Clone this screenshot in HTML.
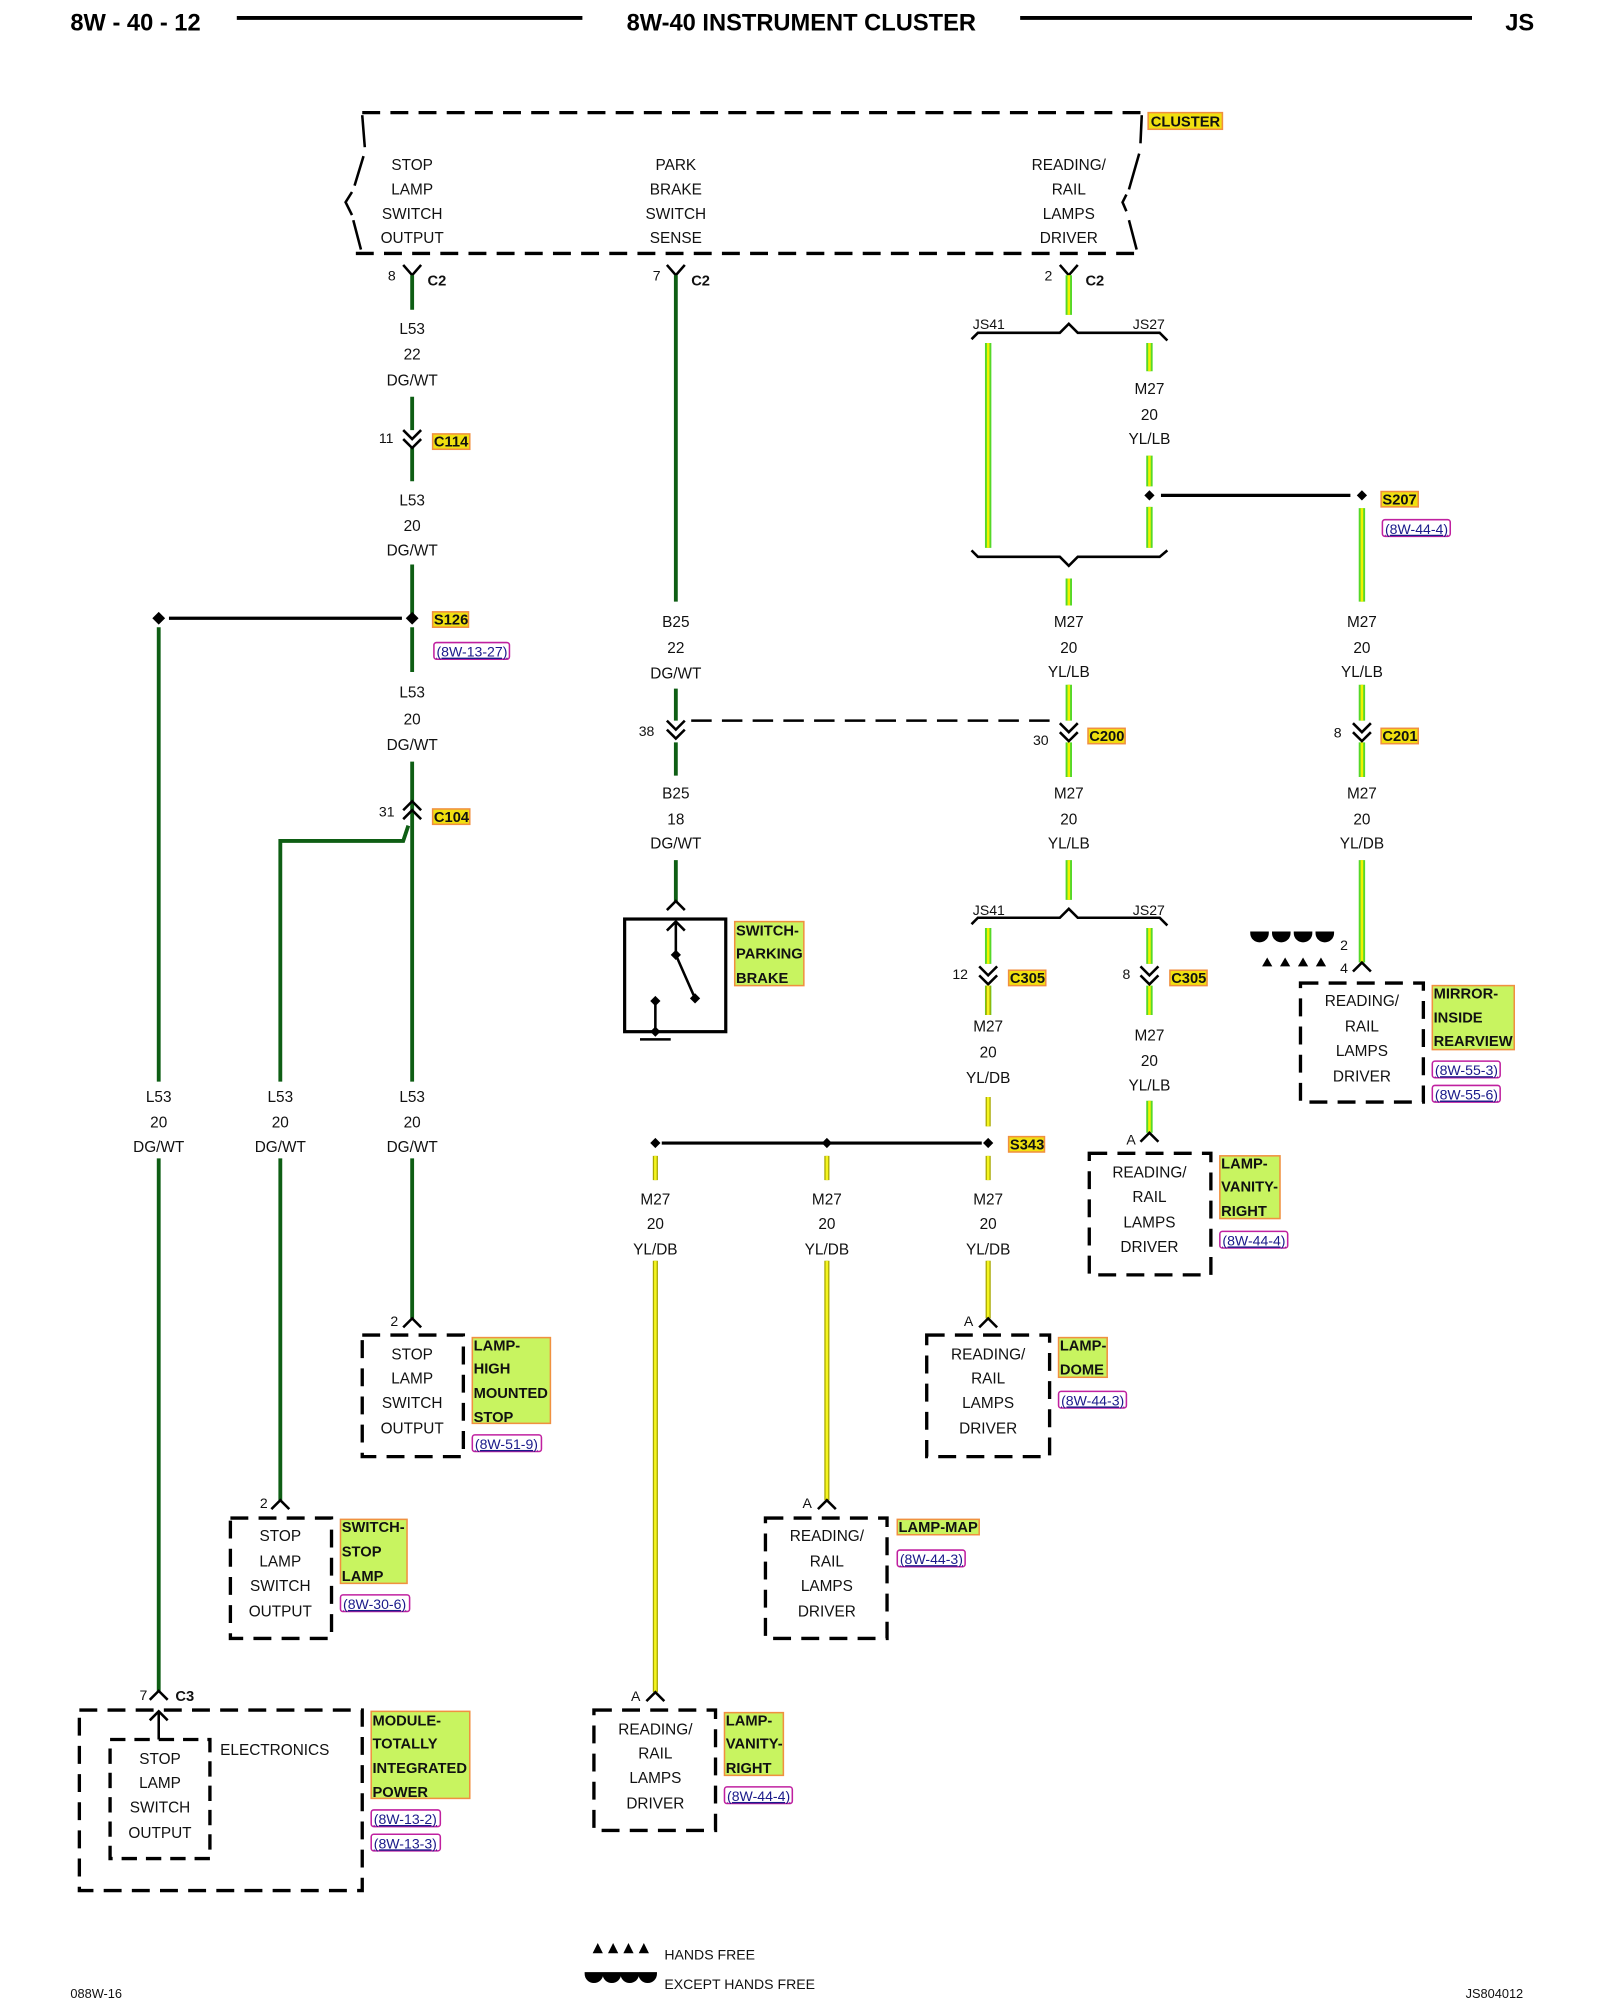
<!DOCTYPE html>
<html><head><meta charset="utf-8"><style>
html,body{margin:0;padding:0;background:#fff}
svg{display:block}
text{font-family:"Liberation Sans",Arial,sans-serif}
.t{font-size:12px;text-anchor:middle;fill:#111}
.n{font-size:11px;fill:#111}
.b{font-size:11.5px;font-weight:bold;fill:#111}
.h{font-size:11.5px;font-weight:bold;fill:#111}
.r{font-size:11px;fill:#1a1a8a;text-decoration:underline}
.dg{stroke:#0e5e14;stroke-width:3;fill:none}
.yb1{stroke:#55d82a;stroke-width:5;fill:none}
.yb2{stroke:#f2f200;stroke-width:2;fill:none}
.yd1{stroke:#a8a800;stroke-width:4;fill:none}
.yd2{stroke:#f4f420;stroke-width:2;fill:none}
.k{stroke:#000;stroke-width:2;fill:none}
.dsh{stroke:#000;stroke-width:2.6;fill:none;stroke-dasharray:14,8}
.hl{fill:#f0e010;stroke:#f09040;stroke-width:1.2}
.gb{fill:#c8f460;stroke:#f09040;stroke-width:1.2}
.rf{fill:none;stroke:#c020a0;stroke-width:1.2}
</style></head><body>
<svg width="1600" height="2000" viewBox="0 0 1250 1562.5" preserveAspectRatio="none" xmlns="http://www.w3.org/2000/svg">
<!-- header -->
<text x="55" y="24" style="font-size:18.5px;font-weight:bold">8W - 40 - 12</text>
<line x1="185" y1="14" x2="455" y2="14" stroke="#000" stroke-width="3"/>
<text x="626" y="24" style="font-size:18.5px;font-weight:bold;text-anchor:middle">8W-40 INSTRUMENT CLUSTER</text>
<line x1="797" y1="14" x2="1150" y2="14" stroke="#000" stroke-width="3"/>
<text x="1176" y="24" style="font-size:18.5px;font-weight:bold">JS</text>

<!-- cluster box -->
<path class="dsh" d="M283 88 H892"/>
<path class="dsh" d="M278 198 H890"/>
<path class="k" stroke-width="2.6" d="M283 90 L285 115 M284 122 L277 145 M275 150 L270 158 L275 168 M276 172 L282 195"/>
<path class="k" stroke-width="2.6" d="M892 90 L891 112 M890 120 L882 148 M880 152 L877 158 L880 165 M882 172 L888 195"/>
<rect class="hl" x="897" y="88" width="58" height="13"/>
<text class="h" x="899" y="99">CLUSTER</text>
<g class="t">
<text x="322" y="133">STOP</text><text x="322" y="152">LAMP</text><text x="322" y="171">SWITCH</text><text x="322" y="190">OUTPUT</text>
<text x="528" y="133">PARK</text><text x="528" y="152">BRAKE</text><text x="528" y="171">SWITCH</text><text x="528" y="190">SENSE</text>
<text x="835" y="133">READING/</text><text x="835" y="152">RAIL</text><text x="835" y="171">LAMPS</text><text x="835" y="190">DRIVER</text>
</g>
<!-- C2 connectors -->
<path class="k" d="M315 207 L322 215 L329 207 M521 207 L528 215 L535 207 M828 207 L835 215 L842 207"/>
<text class="n" x="303" y="219">8</text><text class="b" x="334" y="223">C2</text>
<text class="n" x="510" y="219">7</text><text class="b" x="540" y="223">C2</text>
<text class="n" x="816" y="219">2</text><text class="b" x="848" y="223">C2</text>

<!-- L53 main wire x=322 -->
<path class="dg" d="M322 215 V242 M322 310 V336 M322 350 V376 M322 441 V483 M322 490 V525 M322 595 V640 M322 640 V845 M322 905 V1030"/>
<path class="k" d="M315 336 L322 343 L329 336 M315 343 L322 350 L329 343"/>
<text class="n" x="296" y="346">11</text>
<rect class="hl" x="338" y="339" width="29" height="12"/><text class="h" x="339" y="349">C114</text>
<g class="t">
<text x="322" y="261">L53</text><text x="322" y="281">22</text><text x="322" y="301">DG/WT</text>
<text x="322" y="395">L53</text><text x="322" y="415">20</text><text x="322" y="434">DG/WT</text>
<text x="322" y="545">L53</text><text x="322" y="566">20</text><text x="322" y="586">DG/WT</text>
</g>
<!-- S126 -->
<path d="M322 478 L327 483 L322 488 L317 483Z M124 478 L129 483 L124 488 L119 483Z" fill="#000"/>
<line x1="132" y1="483" x2="314" y2="483" stroke="#000" stroke-width="2.5"/>
<rect class="hl" x="338" y="478" width="28" height="12"/><text class="h" x="339" y="488">S126</text>
<rect class="rf" x="339" y="502" width="59" height="13" rx="2"/><text class="r" x="341" y="513">(8W-13-27)</text>
<!-- C104 -->
<path class="k" d="M315 633 L322 626 L329 633 M315 640 L322 633 L329 640"/>
<text class="n" x="296" y="638">31</text>
<rect class="hl" x="338" y="632" width="29" height="12"/><text class="h" x="339" y="642">C104</text>
<path class="dg" d="M319 645 L315 657 H219 V845 M219 905 V1172"/>
<path class="dg" d="M124 490 V845 M124 905 V1322"/>
<g class="t">
<text x="124" y="861">L53</text><text x="124" y="881">20</text><text x="124" y="900">DG/WT</text>
<text x="219" y="861">L53</text><text x="219" y="881">20</text><text x="219" y="900">DG/WT</text>
<text x="322" y="861">L53</text><text x="322" y="881">20</text><text x="322" y="900">DG/WT</text>
</g>
<!-- HMSL box -->
<path class="k" d="M315 1037 L322 1030 L329 1037"/><text class="n" x="305" y="1036">2</text>
<rect class="dsh" x="283" y="1043" width="79" height="95"/>
<g class="t"><text x="322" y="1062">STOP</text><text x="322" y="1081">LAMP</text><text x="322" y="1100">SWITCH</text><text x="322" y="1120">OUTPUT</text></g>
<rect class="gb" x="369" y="1045" width="61" height="67"/>
<text class="h" x="370" y="1055">LAMP-</text><text class="h" x="370" y="1073">HIGH</text><text class="h" x="370" y="1092">MOUNTED</text><text class="h" x="370" y="1111">STOP</text>
<rect class="rf" x="369" y="1121" width="54" height="13" rx="2"/><text class="r" x="371" y="1132">(8W-51-9)</text>
<!-- stop lamp switch box -->
<path class="k" d="M212 1179 L219 1172 L226 1179"/><text class="n" x="203" y="1178">2</text>
<rect class="dsh" x="180" y="1186" width="79" height="94"/>
<g class="t"><text x="219" y="1204">STOP</text><text x="219" y="1224">LAMP</text><text x="219" y="1243">SWITCH</text><text x="219" y="1263">OUTPUT</text></g>
<rect class="gb" x="266" y="1187" width="52" height="50"/>
<text class="h" x="267" y="1197">SWITCH-</text><text class="h" x="267" y="1216">STOP</text><text class="h" x="267" y="1235">LAMP</text>
<rect class="rf" x="266" y="1246" width="54" height="13" rx="2"/><text class="r" x="268" y="1257">(8W-30-6)</text>
<!-- TIPM -->
<path class="k" d="M117 1328 L124 1321 L131 1328"/><text class="n" x="109" y="1328">7</text><text class="b" x="137" y="1329">C3</text>
<rect class="dsh" x="62" y="1336" width="221" height="141"/>
<path class="k" d="M124 1359 V1338 M117 1344 L124 1337 L131 1344"/>
<rect class="dsh" x="86" y="1359" width="78" height="93" stroke-width="1.8" style="stroke-dasharray:12,7"/>
<text class="n" x="172" y="1371" style="font-size:12px">ELECTRONICS</text>
<g class="t"><text x="125" y="1378">STOP</text><text x="125" y="1397">LAMP</text><text x="125" y="1416">SWITCH</text><text x="125" y="1436">OUTPUT</text></g>
<rect class="gb" x="290" y="1337" width="77" height="68"/>
<text class="h" x="291" y="1348">MODULE-</text><text class="h" x="291" y="1366">TOTALLY</text><text class="h" x="291" y="1385">INTEGRATED</text><text class="h" x="291" y="1404">POWER</text>
<rect class="rf" x="290" y="1414" width="54" height="13" rx="2"/><text class="r" x="292" y="1425">(8W-13-2)</text>
<rect class="rf" x="290" y="1433" width="54" height="13" rx="2"/><text class="r" x="292" y="1444">(8W-13-3)</text>

<!-- B25 wire x=528 -->
<path class="dg" d="M528 215 V470 M528 538 V563 M528 580 V606 M528 672 V705"/>
<path class="k" d="M521 563 L528 570 L535 563 M521 570 L528 577 L535 570"/>
<text class="n" x="499" y="575">38</text>
<path d="M540 563 H820" stroke="#000" stroke-width="2" stroke-dasharray="16,8"/>
<g class="t">
<text x="528" y="490">B25</text><text x="528" y="510">22</text><text x="528" y="530">DG/WT</text>
<text x="528" y="624">B25</text><text x="528" y="644">18</text><text x="528" y="663">DG/WT</text>
</g>
<path class="k" d="M521 711 L528 704 L535 711"/>
<rect x="488" y="718" width="79" height="88" fill="none" stroke="#000" stroke-width="2.5"/>
<path class="k" d="M528 720 V746 M521 727 L528 720 L535 727 M528 746 L543 780 M512 782 V806 M500 812 H524" />
<path d="M528 742 L532 746 L528 750 L524 746Z M543 776 L547 780 L543 784 L539 780Z M512 778 L516 782 L512 786 L508 782Z M512 802 L516 806 L512 810 L508 806Z" fill="#000"/>
<rect class="gb" x="574" y="720" width="54" height="50"/>
<text class="h" x="575" y="731">SWITCH-</text><text class="h" x="575" y="749">PARKING</text><text class="h" x="575" y="768">BRAKE</text>

<!-- M27 x=835 trunk -->
<g>
<path class="yb1" d="M835 215 V246 M772 268 V428 M898 268 V290 M898 356 V380 M898 396 V428 M835 452 V473 M835 535 V563 M835 580 V607 M835 672 V703 M1064 397 V470 M1064 535 V563 M1064 580 V607"/>
<path class="yb2" d="M835 215 V246 M772 268 V428 M898 268 V290 M898 356 V380 M898 396 V428 M835 452 V473 M835 535 V563 M835 580 V607 M835 672 V703 M1064 397 V470 M1064 535 V563 M1064 580 V607"/>
<path class="yb1" d="M772 725 V753 M772 770 V793 M898 725 V753 M898 770 V793 M898 860 V885 M1064 672 V752"/>
<path class="yb2" d="M772 725 V753 M772 770 V793 M898 725 V753 M898 770 V793 M898 860 V885 M1064 672 V752"/>
</g>
<path class="k" d="M759 265 L764 260 H828 L835 253 L842 260 H906 L912 266"/>
<text class="n" x="760" y="257">JS41</text><text class="n" x="885" y="257">JS27</text>
<path class="k" d="M759 430 L764 435 H828 L835 442 L842 435 H906 L912 430"/>
<g class="t">
<text x="898" y="308">M27</text><text x="898" y="328">20</text><text x="898" y="347">YL/LB</text>
<text x="835" y="490">M27</text><text x="835" y="510">20</text><text x="835" y="529">YL/LB</text>
<text x="1064" y="490">M27</text><text x="1064" y="510">20</text><text x="1064" y="529">YL/LB</text>
<text x="835" y="624">M27</text><text x="835" y="644">20</text><text x="835" y="663">YL/LB</text>
<text x="1064" y="624">M27</text><text x="1064" y="644">20</text><text x="1064" y="663">YL/DB</text>
</g>
<path d="M898 383 L902 387 L898 391 L894 387Z M1064 383 L1068 387 L1064 391 L1060 387Z" fill="#000"/>
<line x1="907" y1="387" x2="1055" y2="387" stroke="#000" stroke-width="2.5"/>
<rect class="hl" x="1079" y="384" width="29" height="12"/><text class="h" x="1080" y="394">S207</text>
<rect class="rf" x="1080" y="406" width="53" height="13" rx="2"/><text class="r" x="1082" y="417">(8W-44-4)</text>
<!-- C200 / C201 -->
<path class="k" d="M828 565 L835 572 L842 565 M828 572 L835 579 L842 572 M1057 565 L1064 572 L1071 565 M1057 572 L1064 579 L1071 572"/>
<text class="n" x="807" y="582">30</text>
<rect class="hl" x="850" y="569" width="29" height="12"/><text class="h" x="851" y="579">C200</text>
<text class="n" x="1042" y="576">8</text>
<rect class="hl" x="1079" y="569" width="29" height="12"/><text class="h" x="1080" y="579">C201</text>
<!-- lower bracket -->
<path class="k" d="M759 722 L764 717 H828 L835 710 L842 717 H906 L912 723"/>
<text class="n" x="760" y="715">JS41</text><text class="n" x="885" y="715">JS27</text>
<path class="k" d="M765 755 L772 762 L779 755 M765 762 L772 769 L779 762 M891 755 L898 762 L905 755 M891 762 L898 769 L905 762"/>
<text class="n" x="744" y="765">12</text>
<rect class="hl" x="788" y="758" width="29" height="12"/><text class="h" x="789" y="768">C305</text>
<text class="n" x="877" y="765">8</text>
<rect class="hl" x="914" y="758" width="29" height="12"/><text class="h" x="915" y="768">C305</text>
<g class="t">
<text x="772" y="806">M27</text><text x="772" y="826">20</text><text x="772" y="846">YL/DB</text>
<text x="898" y="813">M27</text><text x="898" y="833">20</text><text x="898" y="852">YL/LB</text>
</g>
<!-- YL/DB wires -->
<path class="yd1" d="M772 770 V793 M772 857 V880 M512 903 V922 M646 903 V922 M772 903 V922 M772 985 V1030 M646 985 V1172 M512 985 V1322"/>
<path class="yd2" d="M772 770 V793 M772 857 V880 M512 903 V922 M646 903 V922 M772 903 V922 M772 985 V1030 M646 985 V1172 M512 985 V1322"/>
<path d="M772 889 L776 893 L772 897 L768 893Z M646 889 L650 893 L646 897 L642 893Z M512 889 L516 893 L512 897 L508 893Z" fill="#000"/>
<line x1="517" y1="893" x2="767" y2="893" stroke="#000" stroke-width="2.5"/>
<rect class="hl" x="788" y="888" width="28" height="12"/><text class="h" x="789" y="898">S343</text>
<g class="t">
<text x="512" y="941">M27</text><text x="512" y="960">20</text><text x="512" y="980">YL/DB</text>
<text x="646" y="941">M27</text><text x="646" y="960">20</text><text x="646" y="980">YL/DB</text>
<text x="772" y="941">M27</text><text x="772" y="960">20</text><text x="772" y="980">YL/DB</text>
</g>
<!-- vanity right (upper) -->
<path class="k" d="M891 892 L898 885 L905 892"/><text class="n" x="880" y="894">A</text>
<rect class="dsh" x="851" y="901" width="95" height="95"/>
<g class="t"><text x="898" y="920">READING/</text><text x="898" y="939">RAIL</text><text x="898" y="959">LAMPS</text><text x="898" y="978">DRIVER</text></g>
<rect class="gb" x="953" y="903" width="47" height="49"/>
<text class="h" x="954" y="913">LAMP-</text><text class="h" x="954" y="931">VANITY-</text><text class="h" x="954" y="950">RIGHT</text>
<rect class="rf" x="953" y="962" width="53" height="13" rx="2"/><text class="r" x="955" y="973">(8W-44-4)</text>
<!-- dome -->
<path class="k" d="M765 1037 L772 1030 L779 1037"/><text class="n" x="753" y="1036">A</text>
<rect class="dsh" x="724" y="1043" width="96" height="95"/>
<g class="t"><text x="772" y="1062">READING/</text><text x="772" y="1081">RAIL</text><text x="772" y="1100">LAMPS</text><text x="772" y="1120">DRIVER</text></g>
<rect class="gb" x="827" y="1045" width="38" height="31"/>
<text class="h" x="828" y="1055">LAMP-</text><text class="h" x="828" y="1074">DOME</text>
<rect class="rf" x="827" y="1087" width="53" height="13" rx="2"/><text class="r" x="829" y="1098">(8W-44-3)</text>
<!-- map -->
<path class="k" d="M639 1179 L646 1172 L653 1179"/><text class="n" x="627" y="1178">A</text>
<rect class="dsh" x="598" y="1186" width="95" height="94"/>
<g class="t"><text x="646" y="1204">READING/</text><text x="646" y="1224">RAIL</text><text x="646" y="1243">LAMPS</text><text x="646" y="1263">DRIVER</text></g>
<rect class="hl" x="701" y="1187" width="64" height="12" style="fill:#c8f460"/><text class="h" x="702" y="1197">LAMP-MAP</text>
<rect class="rf" x="701" y="1211" width="53" height="13" rx="2"/><text class="r" x="703" y="1222">(8W-44-3)</text>
<!-- vanity right lower -->
<path class="k" d="M505 1329 L512 1322 L519 1329"/><text class="n" x="493" y="1329">A</text>
<rect class="dsh" x="464" y="1336" width="95" height="94"/>
<g class="t"><text x="512" y="1355">READING/</text><text x="512" y="1374">RAIL</text><text x="512" y="1393">LAMPS</text><text x="512" y="1413">DRIVER</text></g>
<rect class="gb" x="566" y="1338" width="46" height="49"/>
<text class="h" x="567" y="1348">LAMP-</text><text class="h" x="567" y="1366">VANITY-</text><text class="h" x="567" y="1385">RIGHT</text>
<rect class="rf" x="566" y="1396" width="53" height="13" rx="2"/><text class="r" x="568" y="1407">(8W-44-4)</text>
<!-- mirror -->
<path class="k" d="M1057 759 L1064 752 L1071 759"/>
<text class="n" x="1047" y="742">2</text><text class="n" x="1047" y="760">4</text>
<g fill="#000">
<path d="M978 729 H990 A6 6 0 0 1 978 729Z M995 729 H1007 A6 6 0 0 1 995 729Z M1012 729 H1024 A6 6 0 0 1 1012 729Z M1029 729 H1041 A6 6 0 0 1 1029 729Z" stroke="#000" stroke-width="2.5"/>
<path d="M986 755 L990 748 L994 755Z M1000 755 L1004 748 L1008 755Z M1014 755 L1018 748 L1022 755Z M1028 755 L1032 748 L1036 755Z"/>
</g>
<rect class="dsh" x="1016" y="768" width="96" height="93"/>
<g class="t"><text x="1064" y="786">READING/</text><text x="1064" y="806">RAIL</text><text x="1064" y="825">LAMPS</text><text x="1064" y="845">DRIVER</text></g>
<rect class="gb" x="1119" y="770" width="64" height="50"/>
<text class="h" x="1120" y="780">MIRROR-</text><text class="h" x="1120" y="799">INSIDE</text><text class="h" x="1120" y="817">REARVIEW</text>
<rect class="rf" x="1119" y="829" width="53" height="13" rx="2"/><text class="r" x="1121" y="840">(8W-55-3)</text>
<rect class="rf" x="1119" y="848" width="53" height="13" rx="2"/><text class="r" x="1121" y="859">(8W-55-6)</text>

<!-- legend -->
<path d="M463 1526 L467 1518 L471 1526Z M475 1526 L479 1518 L483 1526Z M487 1526 L491 1518 L495 1526Z M499 1526 L503 1518 L507 1526Z" fill="#000"/>
<text class="n" x="519" y="1531">HANDS FREE</text>
<path d="M458 1542 H470 A6 6 0 0 1 458 1542Z M472 1542 H484 A6 6 0 0 1 472 1542Z M486 1542 H498 A6 6 0 0 1 486 1542Z M500 1542 H512 A6 6 0 0 1 500 1542Z" fill="#000" stroke="#000" stroke-width="2.5"/>
<text class="n" x="519" y="1554">EXCEPT HANDS FREE</text>
<text class="n" x="55" y="1561" style="font-size:10px">088W-16</text>
<text class="n" x="1145" y="1561" style="font-size:10px">JS804012</text>
</svg>
</body></html>
